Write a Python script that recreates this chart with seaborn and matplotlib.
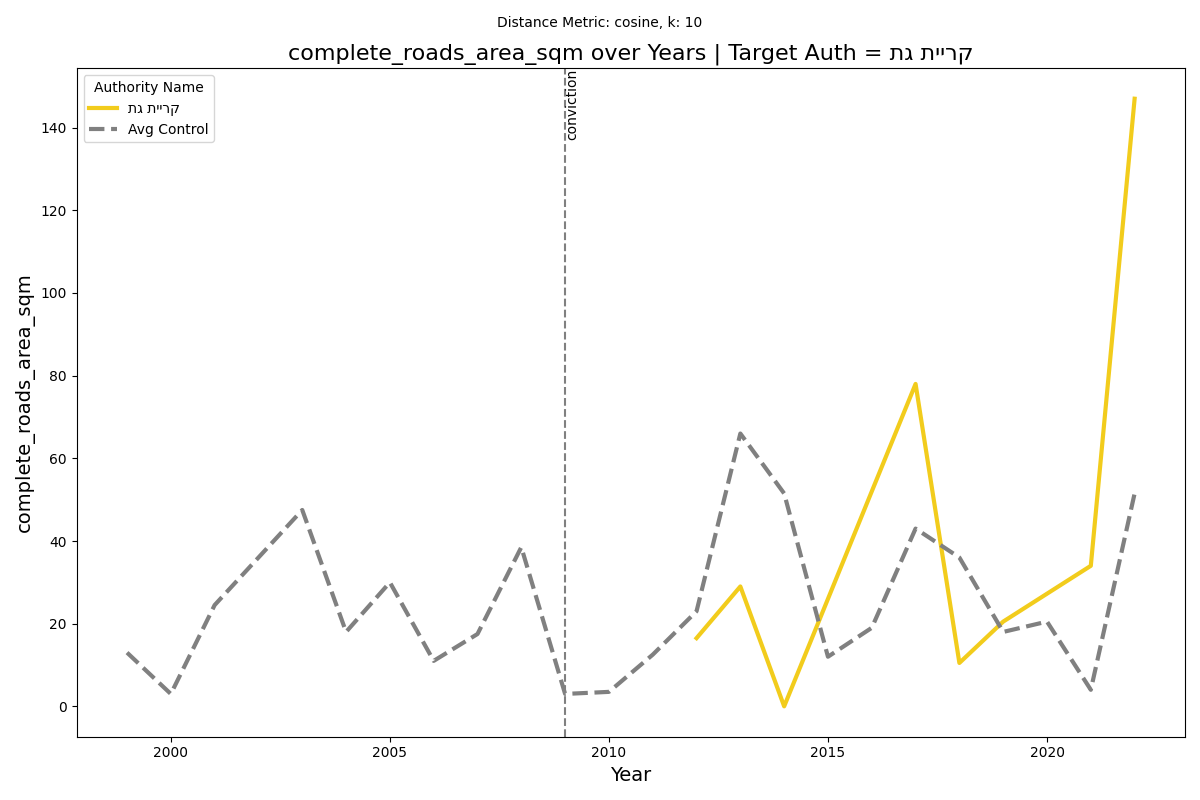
import numpy as np
import pandas as pd
import matplotlib
matplotlib.use("Agg")
import matplotlib.pyplot as plt
import seaborn as sns

years = list(range(1999, 2023))
control = [13, 3, 24.5, np.nan, 47.5, 18, 30, 11, 17.5, 38.5, 3, 3.5, 12.5, 23,
           66, 51.5, 12, 19, 43, 36, 18, 20.5, 4, 51.5]
target = [np.nan] * 13 + [16.5, 29, 0, np.nan, np.nan, 78, 10.5, 20.5, np.nan, 34, 147]
target_name = "קריית גת"[::-1]
conviction_year = 2009

df = pd.DataFrame({"Year": years, target_name: target, "Avg Control": control})

fig, ax = plt.subplots(figsize=(12, 8), dpi=100)
sns.lineplot(x="Year", y=target_name, data=df, ax=ax, color="#f2cc1c",
             linewidth=3, label=target_name)
sns.lineplot(x="Year", y="Avg Control", data=df, ax=ax, color="gray",
             linewidth=3, linestyle="--", label="Avg Control")

ax.axvline(conviction_year, color="gray", linestyle="--", linewidth=1.5)
ax.text(conviction_year, ax.get_ylim()[1], "conviction", rotation=90,
        va="top", ha="left", fontsize=10)

ax.set_xlabel("Year", fontsize=14)
ax.set_ylabel("complete_roads_area_sqm", fontsize=14)
ax.set_title(f"complete_roads_area_sqm over Years | Target Auth = {target_name}", fontsize=16)
fig.suptitle("Distance Metric: cosine, k: 10", fontsize=10)
ax.legend(title="Authority Name", loc="upper left")

fig.tight_layout()
fig.savefig("out.png")
plt.close()
